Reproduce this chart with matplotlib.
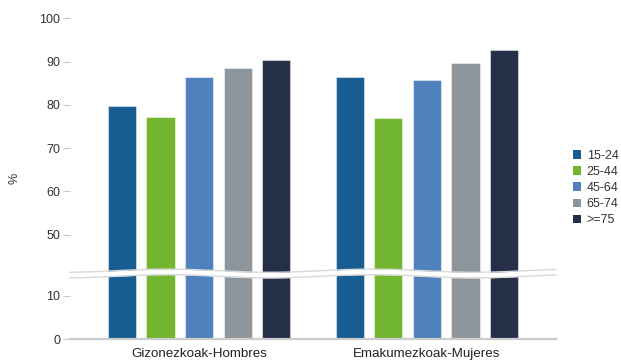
import numpy as np
import matplotlib
matplotlib.use("Agg")
import matplotlib.pyplot as plt
from matplotlib.patches import Patch

plt.rcParams['font.family'] = ['Liberation Sans', 'DejaVu Sans']

groups = ['Gizonezkoak-Hombres', 'Emakumezkoak-Mujeres']
ages = ['15-24', '25-44', '45-64', '65-74', '>=75']
v15_24 = [79.8, 86.5]
v25_44 = [77.1, 76.9]
v45_64 = [86.4, 85.8]
v65_74 = [88.6, 89.6]
v75 = [90.4, 92.7]
series = [v15_24, v25_44, v45_64, v65_74, v75]
colors = ['#175d92', '#72b62f', '#4f82bc', '#8d959c', '#252f48']

W, H = 621, 360
fig = plt.figure(figsize=(W / 100, H / 100), dpi=100)

left, right = 70, 556
y100, ybrk, y0 = 18.3, 273.5, 339.0
ax_top = fig.add_axes([left / W, (H - ybrk) / H, (right - left) / W, (ybrk - y100) / H])
ax_bot = fig.add_axes([left / W, (H - y0) / H, (right - left) / W, (y0 - ybrk) / H], sharex=ax_top)

x = np.arange(len(groups))
step, width = 0.169, 0.123
for ax in (ax_top, ax_bot):
    for i, (vals, c) in enumerate(zip(series, colors)):
        ax.bar(x + (i - 2) * step, vals, width, color=c, edgecolor=(1, 1, 1, 0.45), linewidth=0.8, zorder=2)
    for s in ax.spines.values():
        s.set_visible(False)
    ax.tick_params(axis='y', length=5, width=0.8, color='#c8c8c8', labelsize=9, labelcolor='#333333', pad=2)
    ax.set_xlim(-0.566, 1.566)

ax_top.set_ylim(41, 100)
ax_top.set_yticks([50, 60, 70, 80, 90, 100])
ax_top.tick_params(axis='x', bottom=False, labelbottom=False)
ax_bot.set_ylim(0, 15.1)
ax_bot.set_yticks([0, 10])
ax_bot.spines['bottom'].set_visible(True)
ax_bot.spines['bottom'].set_color('#cccccc')
ax_bot.spines['bottom'].set_linewidth(1.6)
ax_bot.set_xticks(x)
ax_bot.set_xticklabels(groups)
ax_bot.tick_params(axis='x', length=0, labelsize=9.6, labelcolor='#222222', pad=6.5)

fig.text(15 / W, 1 - 178 / H, '%', rotation=90, ha='center', va='center', fontsize=9, color='#333333')

# axis break
ov = fig.add_axes([0, 0, 1, 1], zorder=10)
ov.set_xlim(0, W)
ov.set_ylim(H, 0)
ov.axis('off')
ov.patch.set_alpha(0)
xs = np.linspace(left, right, 300)
yc = ybrk + 1.6 * np.cos(2 * np.pi * (xs - 167) / 205 + np.pi)
ov.fill_between(xs, yc - 2.8, yc + 2.8, color='white', lw=0)
ov.plot(xs, yc - 2.8, color='#d8d8d8', lw=1.0)
ov.plot(xs, yc + 2.8, color='#d8d8d8', lw=1.0)

handles = [Patch(facecolor=c, edgecolor='none', label=a) for a, c in zip(ages, colors)]
fig.legend(handles=handles, loc='center left', bbox_to_anchor=(573 / W, 1 - 188 / H), frameon=False,
           fontsize=9, handlelength=0.65, handleheight=0.65, handletextpad=0.45, labelspacing=0.33,
           labelcolor='#333333', borderpad=0, borderaxespad=0)

fig.savefig('out.png', dpi=100)
